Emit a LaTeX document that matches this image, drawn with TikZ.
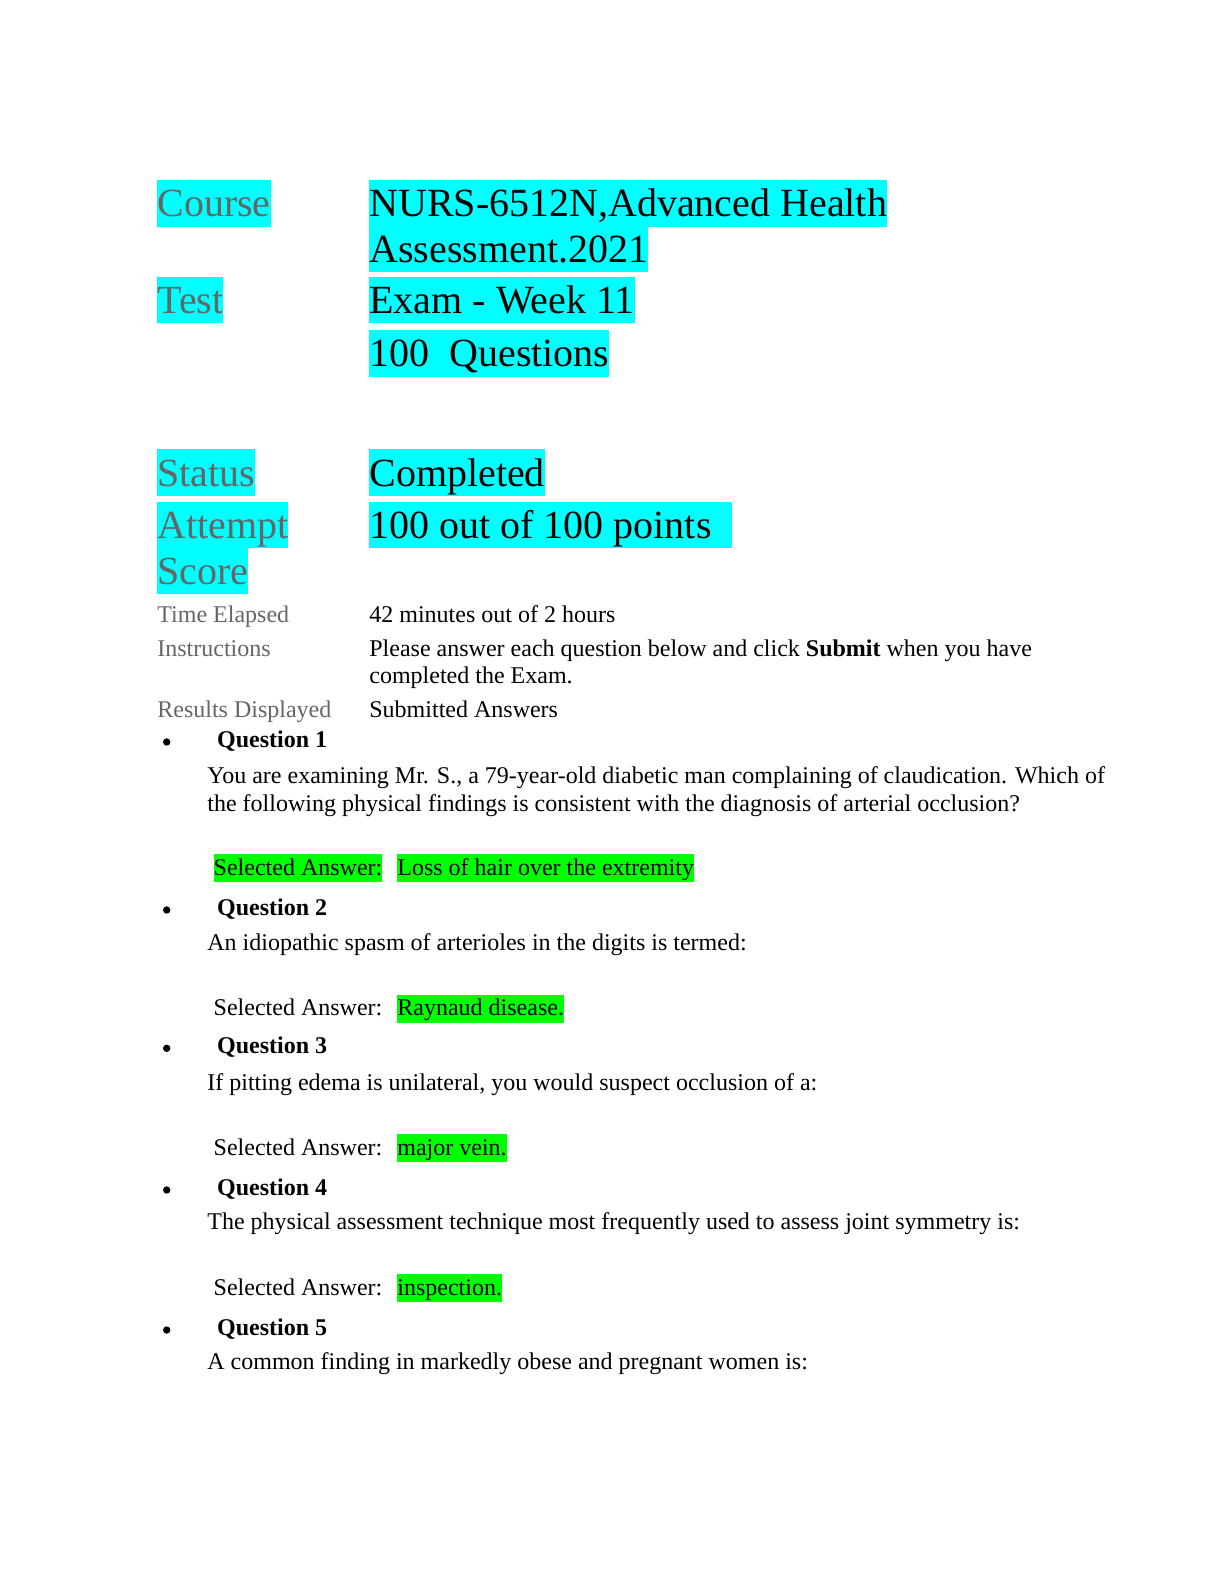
\documentclass[tikz,border=0pt]{standalone}
\usepackage{fontspec}
\setmainfont{Liberation Serif}
\definecolor{hcyan}{HTML}{00FFFF}
\definecolor{hgreen}{HTML}{00FF00}
\definecolor{lblgray}{HTML}{666666}
\tikzset{
  big/.style={anchor=base west, inner sep=0pt, font=\fontsize{20}{23}\selectfont, text height=18.35pt, text depth=5pt},
  hlc/.style={fill=hcyan},
  lbl/.style={text=lblgray},
  small/.style={anchor=base west, inner sep=0pt, font=\fontsize{12}{13.8}\selectfont},
  hlg/.style={fill=hgreen, text height=10.6pt, text depth=3.4pt},
  qhead/.style={small, font=\fontsize{12}{13.8}\selectfont\bfseries},
  bul/.style={circle, fill=black, inner sep=0pt, minimum size=3.7pt},
}
\begin{document}
\begin{tikzpicture}[x=0.5pt, y=-0.5pt]
\useasboundingbox (0,0) rectangle (1224,1584);
% header block
\node[big, hlc, lbl] (course) at (157,216.7) {Course};
\node[big, hlc] (nurs1) at (369,216.7) {NURS-6512N,Advanced Health};
\node[big, hlc] (nurs2) at (369,262.3) {Assessment.2021};
\node[big, hlc, lbl] (test) at (157,313.3) {Test};
\node[big, hlc] (exam) at (369,313.3) {Exam - Week 11};
\node[big, hlc] (qcount) at (369,366.7) {100\kern10pt Questions};
\node[big, hlc, lbl] (status) at (157,486) {Status};
\node[big, hlc] (completed) at (369,486) {Completed};
\node[big, hlc, lbl] (attempt) at (157,538.4) {Attempt};
\node[big, hlc] (points) at (369,538.4) {100 out of 100 points\kern10pt};
\node[big, hlc, lbl] (score) at (157,584) {Score};
% small info rows
\node[small, lbl] (telabel) at (157,622) {Time Elapsed};
\node[small] (teval) at (369,622) {42 minutes out of 2 hours};
\node[small, lbl] (inlabel) at (157,656) {Instructions};
\node[small] (inval1) at (369,656) {Please answer each question below and click \textbf{Submit} when you have};
\node[small] (inval2) at (369,683) {completed the Exam.};
\node[small, lbl] (rdlabel) at (157,717) {Results Displayed};
\node[small] (rdval) at (369,717) {Submitted Answers};
% Question 1
\node[bul] (b1) at (166.7,742) {};
\node[qhead] (q1) at (216.7,747) {Question 1};
\node[small] (q1t1) at (207,783.3) {You are examining Mr. S., a 79-year-old diabetic man complaining of claudication. Which of};
\node[small] (q1t2) at (207,811) {the following physical findings is consistent with the diagnosis of arterial occlusion?};
\node[small, hlg] (s1) at (213.3,875) {Selected Answer:};
\node[small, hlg] (a1) at (397,875) {Loss of hair over the extremity};
% Question 2
\node[bul] (b2) at (166.7,910) {};
\node[qhead] (q2) at (216.7,915) {Question 2};
\node[small] (q2t1) at (207,950) {An idiopathic spasm of arterioles in the digits is termed:};
\node[small] (s2) at (213.3,1015.7) {Selected Answer:};
\node[small, hlg] (a2) at (397,1015.7) {Raynaud disease.};
% Question 3
\node[bul] (b3) at (166.7,1048.3) {};
\node[qhead] (q3) at (216.7,1053.3) {Question 3};
\node[small] (q3t1) at (207,1090) {If pitting edema is unilateral, you would suspect occlusion of a:};
\node[small] (s3) at (213.3,1155) {Selected Answer:};
\node[small, hlg] (a3) at (397,1155) {major vein.};
% Question 4
\node[bul] (b4) at (166.7,1190) {};
\node[qhead] (q4) at (216.7,1195) {Question 4};
\node[small] (q4t1) at (207,1229.3) {The physical assessment technique most frequently used to assess joint symmetry is:};
\node[small] (s4) at (213.3,1295) {Selected Answer:};
\node[small, hlg] (a4) at (397,1295) {inspection.};
% Question 5
\node[bul] (b5) at (166.7,1330) {};
\node[qhead] (q5) at (216.7,1335) {Question 5};
\node[small] (q5t1) at (207,1369) {A common finding in markedly obese and pregnant women is:};
\end{tikzpicture}
\end{document}
